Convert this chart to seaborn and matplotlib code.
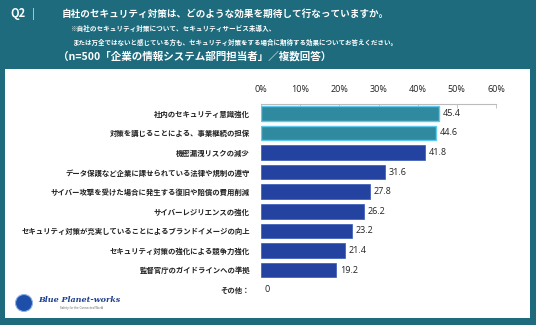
import matplotlib
matplotlib.use("Agg")
import matplotlib.pyplot as plt
import seaborn as sns
import pandas as pd
from matplotlib.patches import Rectangle, Ellipse

categories = [
    "社内のセキュリティ意識強化",
    "対策を講じることによる、事業継続の担保",
    "機密漏洩リスクの減少",
    "データ保護など企業に課せられている法律や規制の遵守",
    "サイバー攻撃を受けた場合に発生する復旧や賠償の費用削減",
    "サイバーレジリエンスの強化",
    "セキュリティ対策が充実していることによるブランドイメージの向上",
    "セキュリティ対策の強化による競争力強化",
    "監督官庁のガイドラインへの準拠",
    "その他：",
]
values = [45.4, 44.6, 41.8, 31.6, 27.8, 26.2, 23.2, 21.4, 19.2, 0]
value_labels = ["45.4", "44.6", "41.8", "31.6", "27.8", "26.2", "23.2", "21.4", "19.2", "0"]
xticks = [0, 10, 20, 30, 40, 50, 60]
xtick_labels = ["0%", "10%", "20%", "30%", "40%", "50%", "60%"]

title = "自社のセキュリティ対策は、どのような効果を期待して行なっていますか。"
note1 = "※自社のセキュリティ対策について、セキュリティサービス未導入、"
note2 = "または万全ではないと感じている方も、セキュリティ対策をする場合に期待する効果についてお答えください。"
note3 = "（n=500「企業の情報システム部門担当者」／複数回答）"

TEAL_BG = "#1d6b7d"
HI = "#2f8aa0"
HI_EDGE = "#5fc9ee"
DARK = "#2443a0"
DARK_EDGE = "#3557b8"

sns.set_theme(style="white")
plt.rcParams["font.family"] = ["Noto Sans CJK JP", "DejaVu Sans"]

W, H = 536, 325
fig = plt.figure(figsize=(W / 100, H / 100), dpi=100, facecolor=TEAL_BG)

def fx(px):
    return px / W

def fy(py):
    return 1 - py / H

# white panel (behind everything)
fig.patches.append(Rectangle((fx(5), fy(318)), fx(525), (318 - 69) / H,
                             transform=fig.transFigure, facecolor="white",
                             edgecolor="none", zorder=-10))

# header texts
fig.text(fx(10), fy(14), "Q2", color="white", fontsize=8, fontweight="bold", va="center")
fig.text(fx(32), fy(14), "|", color="#cfe3e8", fontsize=8, va="center")
fig.text(fx(62), fy(14), title, color="white", fontsize=6.9, fontweight="bold", va="center")
fig.text(fx(70), fy(28), note1, color="white", fontsize=4.75, fontweight="bold", va="center")
fig.text(fx(73), fy(42.5), note2, color="white", fontsize=4.7, fontweight="bold", va="center")
fig.text(fx(58), fy(56), note3, color="white", fontsize=7.6, fontweight="bold", va="center")

# axes
ax_left, ax_right = 261, 496
ax_top, ax_bot = 103.5, 299.5
ax = fig.add_axes([fx(ax_left), fy(ax_bot), (ax_right - ax_left) / W, (ax_bot - ax_top) / H])
ax.set_facecolor("none")
ax.set_zorder(5)

df = pd.DataFrame({"cat": categories, "val": values})
palette = {c: (HI if i < 2 else DARK) for i, c in enumerate(categories)}
sns.barplot(data=df, x="val", y="cat", hue="cat", palette=palette, legend=False,
            width=0.74, ax=ax, saturation=1)
for i, p in enumerate(ax.patches):
    if values[i] == 0:
        p.set_linewidth(0)
        continue
    p.set_edgecolor(HI_EDGE if i < 2 else DARK_EDGE)
    p.set_linewidth(1.0 if i < 2 else 0.5)

ax.set_xlim(0, 60)
ax.set_ylim(9.5, -0.5)
ax.xaxis.tick_top()
ax.set_xticks(xticks)
ax.set_xticklabels(xtick_labels, fontsize=6.5, color="#222222", family=["Open Sans", "DejaVu Sans"])
ax.tick_params(axis="x", direction="in", length=3, width=0.6, color="#bbbbbb", pad=7)
ax.tick_params(axis="y", length=0, pad=8)
ax.set_yticks(range(len(categories)))
ax.set_yticklabels(categories, fontsize=5.3, fontweight="bold", color="#222222")
ax.set_xlabel("")
ax.set_ylabel("")
for s in ["bottom", "left", "right"]:
    ax.spines[s].set_visible(False)
ax.spines["top"].set_color("#bbbbbb")
ax.spines["top"].set_linewidth(0.8)

for i, (v, lab) in enumerate(zip(values, value_labels)):
    ax.text(v + 1.0, i, lab, va="center", ha="left", fontsize=6.5,
            color="#222222", family=["Open Sans", "DejaVu Sans"])

# logo
fig.patches.append(Ellipse((fx(24), fy(303)), 17 / W, 17 / H, transform=fig.transFigure,
                           facecolor="#1e4fa8", edgecolor="#8fb3e6", linewidth=0.8, zorder=2))
fig.text(fx(38), fy(300), "Blue Planet-works", color="#1f3f8f", fontsize=5.8,
         fontweight="bold", fontstyle="italic", family=["DejaVu Serif"], va="center")
fig.text(fx(60), fy(308), "Safety for the Connected World", color="#666666", fontsize=2.0, va="center",
         family=["DejaVu Sans"])

fig.savefig("out.png", dpi=100, facecolor=TEAL_BG)
